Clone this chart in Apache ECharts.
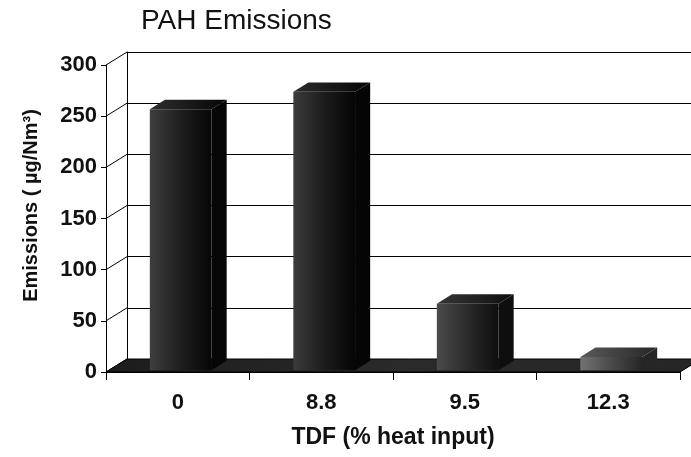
<!DOCTYPE html>
<html>
<head>
<meta charset="utf-8">
<style>
  html, body { margin: 0; padding: 0; background: #ffffff; }
  #chart { width: 691px; height: 457px; }
</style>
<script src="https://cdn.jsdelivr.net/npm/echarts@6/dist/echarts.min.js"></script>
</head>
<body>
<div id="chart"></div>
<script>
// PAH emissions against tire-derived fuel share
const categories = ['0', '8.8', '9.5', '12.3'];
const emissions = [255, 272, 65, 13];
const yTicks = [0, 50, 100, 150, 200, 250, 300];

// oblique depth of the 3D box (front plane -> back wall)
const DX = 21, DY = -13;
// front plane of the plot box
const FRONT = { left: 106, top: 65, right: 11, bottom: 85 };
// bar geometry as fractions of band / depth
const BAR_RATIO = 0.43, BAR_D0 = 0.14, BAR_D1 = 0.86;
// shading for each column: [light edge, mid, dark edge, top face]
const BAR_SHADES = [
  ['#3e3e3e', '#1e1e1e', '#060606', '#2e2e2e'],
  ['#3c3c3c', '#1c1c1c', '#050505', '#2c2c2c'],
  ['#4a4a4a', '#2a2a2a', '#0e0e0e', '#363636'],
  ['#727272', '#4a4a4a', '#262626', '#5a5a5a']
];
const FONT = "'Liberation Sans', Arial, sans-serif";

const chart = echarts.init(document.getElementById('chart'));

function hGrad(c) {
  return new echarts.graphic.LinearGradient(0, 0, 1, 0, [
    { offset: 0, color: c[0] }, { offset: 0.5, color: c[1] }, { offset: 1, color: c[2] }
  ]);
}

chart.setOption({
  backgroundColor: '#ffffff',
  animation: false,
  title: {
    text: 'PAH Emissions', left: 136, top: 2,
    textStyle: { fontFamily: FONT, fontSize: 28, fontWeight: 'normal', color: '#111' }
  },
  grid: [
    // front plane (axes, labels, bars)
    { left: FRONT.left, top: FRONT.top, right: FRONT.right, bottom: FRONT.bottom },
    // back wall (gridlines)
    { left: FRONT.left + DX, top: FRONT.top + DY, right: FRONT.right - DX, bottom: FRONT.bottom - DY }
  ],
  xAxis: [
    {
      type: 'category', gridIndex: 0, data: categories, boundaryGap: true,
      axisLine: { show: true, lineStyle: { color: '#000', width: 1 } },
      axisTick: { show: true, length: 8, lineStyle: { color: '#000' } },
      axisLabel: { margin: 20, fontFamily: FONT, fontSize: 22, fontWeight: 'bold', color: '#111' },
      name: 'TDF (% heat input)', nameLocation: 'middle', nameGap: 54,
      nameTextStyle: { fontFamily: FONT, fontSize: 23, fontWeight: 'bold', color: '#111' }
    },
    { type: 'category', gridIndex: 1, data: categories, show: false }
  ],
  yAxis: [
    {
      type: 'value', gridIndex: 0, min: 0, max: 300, interval: 50,
      axisLine: { show: true, lineStyle: { color: '#000', width: 1 } },
      axisTick: { show: true, length: 5, lineStyle: { color: '#000' } },
      axisLabel: { margin: 9, fontFamily: FONT, fontSize: 22, fontWeight: 'bold', color: '#111' },
      splitLine: { show: false }
    },
    {
      type: 'value', gridIndex: 1, min: 0, max: 300, interval: 50,
      axisLine: { show: true, lineStyle: { color: '#000', width: 1 } },
      axisTick: { show: false }, axisLabel: { show: false },
      splitLine: { show: true, lineStyle: { color: '#000', width: 1 } },
      name: 'Emissions ( µg/Nm³)', nameLocation: 'middle', nameGap: 86,
      nameTextStyle: { fontFamily: FONT, fontSize: 20, fontWeight: 'bold', color: '#111' }
    }
  ],
  series: [
    {
      // left side wall: depth lines from each front tick to the back wall
      type: 'custom', xAxisIndex: 0, yAxisIndex: 0, z: 1, silent: true,
      data: yTicks.map(v => [0, v]),
      renderItem(params, api) {
        const p = api.coord([0, api.value(1)]);
        const x = params.coordSys.x;
        return {
          type: 'line',
          shape: { x1: x, y1: p[1], x2: x + DX, y2: p[1] + DY },
          style: { stroke: '#000', lineWidth: 1 }
        };
      }
    },
    {
      // floor slab
      type: 'custom', xAxisIndex: 0, yAxisIndex: 0, z: 2, silent: true,
      data: [[0, 0]],
      renderItem(params, api) {
        const cs = params.coordSys;
        const y0 = api.coord([0, 0])[1];
        return {
          type: 'polygon',
          shape: { points: [[cs.x, y0], [cs.x + cs.width, y0], [cs.x + cs.width + DX, y0 + DY], [cs.x + DX, y0 + DY]] },
          style: {
            fill: new echarts.graphic.LinearGradient(0, 0, 1, 0, [
              { offset: 0, color: '#1c1c1c' }, { offset: 0.5, color: '#2a2a2a' }, { offset: 1, color: '#262626' }
            ]),
            stroke: '#000', lineWidth: 1
          }
        };
      }
    },
    {
      // columns as oblique boxes
      type: 'custom', xAxisIndex: 0, yAxisIndex: 0, z: 3,
      data: emissions.map((v, i) => [i, v]),
      renderItem(params, api) {
        const i = api.value(0), v = api.value(1);
        const base = api.coord([i, 0]);
        const top = api.coord([i, v]);
        const band = api.size([1, 0])[0];
        const w = band * BAR_RATIO;
        const x0 = base[0] - w / 2 + DX * BAR_D0;
        const x1 = x0 + w;
        const yb = base[1] + DY * BAR_D0;
        const yt = top[1] + DY * BAR_D0;
        const ox = DX * (BAR_D1 - BAR_D0), oy = DY * (BAR_D1 - BAR_D0);
        const c = BAR_SHADES[i];
        return {
          type: 'group',
          children: [
            {
              type: 'polygon',
              shape: { points: [[x1, yt], [x1 + ox, yt + oy], [x1 + ox, yb + oy], [x1, yb]] },
              style: { fill: c[2] }
            },
            {
              type: 'polygon',
              shape: { points: [[x0, yt], [x1, yt], [x1 + ox, yt + oy], [x0 + ox, yt + oy]] },
              style: {
                fill: new echarts.graphic.LinearGradient(0, 0, 1, 0, [
                  { offset: 0, color: c[3] }, { offset: 1, color: c[2] }
                ])
              }
            },
            {
              type: 'rect',
              shape: { x: x0, y: yt, width: w, height: yb - yt },
              style: { fill: hGrad(c) }
            }
          ]
        };
      }
    }
  ]
});
</script>
</body>
</html>
